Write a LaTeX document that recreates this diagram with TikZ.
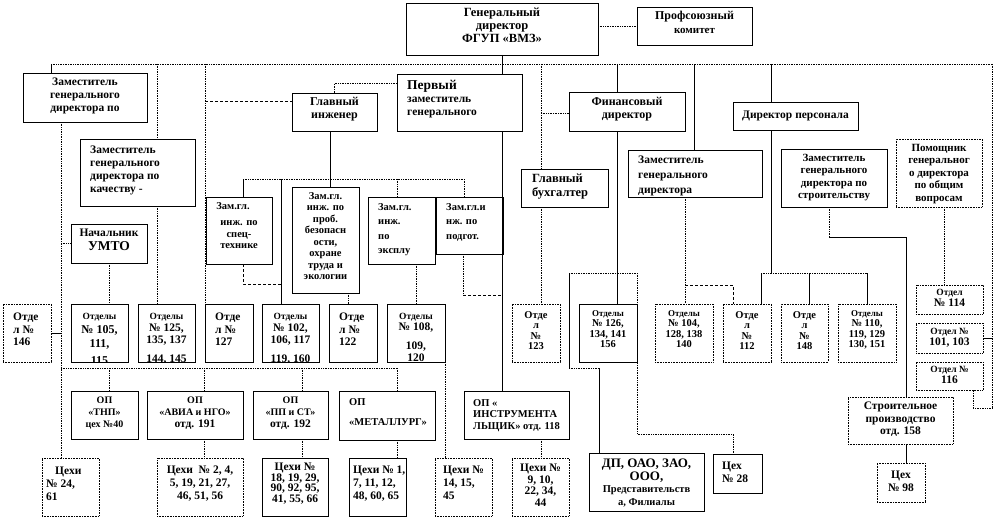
\documentclass[tikz,border=0pt]{standalone}
\usepackage{fontspec}
\setmainfont{Liberation Serif}
\usetikzlibrary{calc}
\newcommand\myfs[2]{\bfseries\fontsize{#1}{#2}\selectfont}
\tikzset{
 obox/.style={draw, line width=0.6pt, fill=white, inner sep=0pt, outer sep=0pt},
 dbox/.style={obox, densely dotted, line width=0.8pt},
 txt/.style={inner sep=0pt, align=center, font=\myfs{11.5}{13}},
 dl/.style={densely dotted, line width=0.7pt},
 sl/.style={line width=0.6pt},
 ds/.style={dash pattern=on 3pt off 2pt, line width=0.6pt},
}
\newcommand\bx[6][obox]{\node[#1,minimum width={(#5-#3)*1pt},minimum height={(#6-#4)*1pt}] (#2) at ({(#3+#5)/2},{(#4+#6)/2}) {};}
\newcommand\tx[4][]{\begin{scope}\clip (#2.south west) rectangle (#2.north east);\node[txt,anchor=#3,#1] at (#2.#3) {#4};\end{scope}}
\begin{document}
\begin{tikzpicture}[x=1pt,y=-1pt]
\useasboundingbox (0,0) rectangle (993,519);
% ---------- boxes ----------
\bx{gd}{406}{3}{598}{55}
\tx[yshift=-5pt,font=\myfs{12.5}{13}]{gd}{north}{Генеральный\\директор\\ФГУП «ВМЗ»}
\bx{prof}{637}{7}{752}{45}
\tx[yshift=-4pt,font=\myfs{12}{14}]{prof}{north}{Профсоюзный\\{\fontsize{11}{13}\selectfont комитет}}
\bx{zam1}{23}{73}{147}{122}
\tx[yshift=-5pt]{zam1}{north}{Заместитель\\генерального\\директора по}
\bx{pz}{397}{74}{522}{131}
\tx[xshift=10pt,yshift=-6pt,align=left]{pz}{north west}{{\fontsize{13.5}{13}\selectfont Первый}\\заместитель\\генерального}
\bx{gi}{292}{93}{377}{131}
\tx[yshift=-4pt,font=\myfs{12}{13.5}]{gi}{north}{Главный\\инженер}
\bx{fd}{569}{92}{685}{131}
\tx[yshift=-5pt,font=\myfs{12}{13.5}]{fd}{north}{Финансовый\\директор}
\bx{dp}{733}{102}{858}{130}
\tx{dp}{center}{Директор персонала}
\bx{zk}{80}{139}{195}{206}
\tx[xshift=10pt,yshift=-7pt,align=left]{zk}{north west}{Заместитель\\генерального\\директора по\\качеству -}
\bx{gb}{521}{169}{608}{207}
\tx[xshift=11pt,yshift=-5pt,align=left,font=\myfs{12.5}{14}]{gb}{north west}{Главный\\бухгалтер}
\bx{zf}{628}{150}{762}{197}
\tx[xshift=10pt,yshift=-6pt,align=left,font=\myfs{11.5}{15}]{zf}{north west}{Заместитель\\генерального\\директора}
\bx{zs}{781}{149}{887}{207}
\tx[yshift=-5pt,font=\myfs{11}{12.5}]{zs}{north}{Заместитель\\генерального\\директора по\\строительству}
\bx[dbox]{pom}{896}{139}{982}{207}
\tx[yshift=-5pt,font=\myfs{11}{12.5}]{pom}{north}{Помощник\\генеральног\\о директора\\по общим\\вопросам}
\bx{umto}{71}{224}{147}{263}
\tx[yshift=-5pt,font=\myfs{11.5}{14}]{umto}{north}{Начальник\\{\fontsize{13.5}{14}\selectfont УМТО}}
\bx{zgs}{206}{197}{272}{264}
\tx[yshift=-5pt,font=\myfs{10.5}{11.5}]{zgs}{north}{Зам.гл.\hspace*{12pt}\\[5pt]инж. по\\спец-\\технике}
\bx{zpb}{292}{187}{359}{293}
\tx[yshift=-5pt,font=\myfs{10.5}{11.5}]{zpb}{north}{Зам.гл.\\инж. по\\проб.\\безопасн\\ости,\\охране\\труда и\\экологии}
\bx{zge}{368}{197}{435}{264}
\tx[xshift=10pt,yshift=-6pt,align=left,font=\myfs{10.5}{14.5}]{zge}{north west}{Зам.гл.\\инж.\\по\\эксплу}
\bx{zgp}{436}{197}{503}{254}
\tx[xshift=10pt,yshift=-6pt,align=left,font=\myfs{10.5}{14.5}]{zgp}{north west}{Зам.гл.и\\нж. по\\подгот.}
% row of departments
\bx[dbox]{o146}{3}{304}{51}{362}
\tx[xshift=10pt,yshift=-9pt,align=left,font=\myfs{11.5}{12.5}]{o146}{north west}{Отде\\л №\\146}
\bx{o105}{71}{304}{128}{362}
\tx[yshift=-9pt,font=\myfs{12}{14}]{o105}{north}{{\fontsize{9.5}{9}\selectfont Отделы}\\№ 105,\\111,\\[3pt]115}
\bx{o125}{138}{304}{195}{362}
\tx[yshift=-9pt,font=\myfs{11.5}{12}]{o125}{north}{{\fontsize{9.5}{9}\selectfont Отделы}\\№ 125,\\135, 137\\[7pt]144, 145}
\bx{o127}{205}{304}{253}{362}
\tx[xshift=10pt,yshift=-9pt,align=left,font=\myfs{11.5}{12.5}]{o127}{north west}{Отде\\л №\\127}
\bx{o102}{262}{304}{319}{362}
\tx[yshift=-9pt,font=\myfs{11.5}{12}]{o102}{north}{{\fontsize{9.5}{9}\selectfont Отделы}\\№ 102,\\106, 117\\[7pt]119, 160}
\bx{o122}{329}{304}{377}{362}
\tx[xshift=10pt,yshift=-9pt,align=left,font=\myfs{11.5}{12.5}]{o122}{north west}{Отде\\л №\\122}
\bx{o108}{387}{304}{445}{362}
\tx[yshift=-9pt,font=\myfs{11.5}{11}]{o108}{north}{{\fontsize{9.5}{9}\selectfont Отделы}\\№ 108,\\[8pt]109,\\[1pt]120}
\bx[dbox]{o123}{512}{304}{560}{362}
\tx[yshift=-7pt,font=\myfs{10.5}{10.5}]{o123}{north}{Отде\\л\\№\\123}
\bx{o126}{579}{304}{637}{362}
\tx[yshift=-6pt,font=\myfs{10.5}{10.5}]{o126}{north}{{\fontsize{9}{9}\selectfont Отделы}\\№ 126,\\134, 141\\156}
\bx[dbox]{o104}{655}{304}{713}{362}
\tx[yshift=-6pt,font=\myfs{10.5}{10.5}]{o104}{north}{{\fontsize{9}{9}\selectfont Отделы}\\№ 104,\\128, 138\\140}
\bx[dbox]{o112}{723}{304}{771}{362}
\tx[yshift=-7pt,font=\myfs{10.5}{10.5}]{o112}{north}{Отде\\л\\№\\112}
\bx[dbox]{o148}{781}{304}{828}{362}
\tx[yshift=-7pt,font=\myfs{10.5}{10.5}]{o148}{north}{Отде\\л\\№\\148}
\bx[dbox]{o110}{838}{304}{896}{362}
\tx[yshift=-6pt,font=\myfs{10.5}{10.5}]{o110}{north}{{\fontsize{9}{9}\selectfont Отделы}\\№ 110,\\119, 129\\130, 151}
\bx[dbox]{o114}{916}{285}{983}{314}
\tx[yshift=-4pt,font=\myfs{11.5}{11}]{o114}{north}{{\fontsize{9.5}{9}\selectfont Отдел}\\№ 114}
\bx[dbox]{o101}{916}{323}{983}{353}
\tx[yshift=-5pt,font=\myfs{11.5}{11}]{o101}{north}{{\fontsize{9.5}{9}\selectfont Отдел №}\\101, 103}
\bx[dbox]{o116}{916}{362}{983}{390}
\tx[yshift=-4pt,font=\myfs{11.5}{11}]{o116}{north}{{\fontsize{9.5}{9}\selectfont Отдел №}\\116}
% OP row
\bx{tnp}{71}{391}{138}{439}
\tx[yshift=-6pt,font=\myfs{10}{12}]{tnp}{north}{ОП\\«ТНП»\\цех №40}
\bx{avia}{147}{391}{243}{439}
\tx[yshift=-6pt,font=\myfs{10}{12}]{avia}{north}{ОП\\«АВИА и НГО»\\{\fontsize{11.5}{11}\selectfont отд. 191}}
\bx{ppst}{253}{391}{328}{439}
\tx[yshift=-6pt,font=\myfs{10}{12}]{ppst}{north}{ОП\\«ПП и СТ»\\{\fontsize{11.5}{11}\selectfont отд. 192}}
\bx{met}{339}{391}{435}{440}
\tx[xshift=10pt,yshift=-7pt,align=left,font=\myfs{10.5}{12}]{met}{north west}{ОП\\[8pt]«МЕТАЛЛУРГ»}
\bx{instr}{464}{391}{569}{439}
\tx[xshift=9pt,yshift=-8pt,align=left,font=\myfs{10.5}{11.5}]{instr}{north west}{ОП «\\ИНСТРУМЕНТА\\ЛЬЩИК» отд. 118}
\bx[dbox]{sp}{848}{397}{953}{444}
\tx[yshift=-5pt,font=\myfs{11.5}{12.5}]{sp}{north}{Строительное\\производство\\отд. 158}
% workshops
\bx[dbox]{c24}{42}{458}{99}{516}
\tx[xshift=4pt,yshift=-9pt,align=left]{c24}{north west}{\hspace*{9pt}Цехи\\№ 24,\\61}
\bx[dbox]{c2}{157}{458}{243}{516}
\tx[yshift=-8pt]{c2}{north}{Цехи~ № 2, 4,\\5, 19, 21, 27,\\46, 51, 56}
\bx{c18}{262}{458}{328}{516}
\tx[yshift=-5pt,font=\myfs{11.5}{10.5}]{c18}{north}{Цехи №\\18, 19, 29,\\90, 92, 95,\\41, 55, 66}
\bx{c1}{349}{458}{406}{516}
\tx[xshift=4pt,yshift=-8pt,align=left]{c1}{north west}{Цехи № 1,\\7, 11, 12,\\48, 60, 65}
\bx[dbox]{c14}{435}{458}{492}{516}
\tx[xshift=8pt,yshift=-8pt,align=left]{c14}{north west}{Цехи №\\14, 15,\\45}
\bx[dbox]{c9}{512}{458}{569}{516}
\tx[yshift=-6pt,font=\myfs{11.5}{11.5}]{c9}{north}{Цехи №\\9, 10,\\22, 34,\\44}
\bx{dpoao}{589}{453}{704}{511}
\tx[yshift=-6pt,font=\myfs{10.5}{12.5}]{dpoao}{north}{{\fontsize{13}{12}\selectfont ДП, ОАО, ЗАО,}\\{\fontsize{13}{12}\selectfont ООО,}\\Представительств\\а, Филиалы}
\bx{c28}{713}{454}{762}{493}
\tx[xshift=9pt,yshift=-8pt,align=left]{c28}{north west}{Цех\\№ 28}
\bx[dbox]{c98}{877}{463}{925}{502}
\tx[yshift=-8pt]{c98}{north}{Цех\\№ 98}
% ---------- connectors ----------
\coordinate (bL) at (51,64); \coordinate (bR) at (992,64);
\draw[dl] (bL) -- (bR);
\draw[sl] (bL) -- (bL |- zam1.north);
\draw[sl] (gd.south) -- (gd.south |- pz.north);
\draw[dl] (gd.east |- prof.west) -- (prof.west);
\coordinate (k157) at (157,64);
\draw[dl] (k157) -- (k157 |- zk.north);
\draw[dl] (zk.south -| k157) -- (k157 |- o125.north);
\coordinate (k205) at (205,64);
\draw[dl] (k205) -- (k205 |- o127.north);
\draw[ds] (205,101) -- (gi.west |- 0,101);
\draw[dl] (gi.north) -- (gi.north |- 0,83) -- (pz.west |- 0,83);
\coordinate (k541) at (541,64);
\draw[dl] (k541) -- (k541 |- gb.north);
\draw[dl] (gb.south -| k541) -- (k541 |- o123.north);
\draw[dl] (k541 |- 0,113) -- (fd.west |- 0,113);
\coordinate (k617) at (617,64);
\draw[sl] (k617) -- (k617 |- fd.north);
\draw[sl] (fd.south -| k617) -- (k617 |- o126.north);
\coordinate (k694) at (694,64);
\draw[sl] (k694) -- (k694 |- zf.north);
\coordinate (k771) at (771,64);
\draw[sl] (k771) -- (k771 |- dp.north);
\coordinate (pb) at (771,273);
\draw[sl] (dp.south -| k771) -- (pb);
\draw[dl] (761,273) -- (867,273);
\draw[sl] (761,273) -- (761,0 |- o112.north);
\draw[sl] (809,273) -- (809,0 |- o148.north);
\draw[sl] (867,273) -- (867,0 |- o110.north);
\coordinate (rb) at (992,408);
\draw[dl] (bR) -- (rb) -- (973,408) -- (973,0 |- o116.south);
\draw[sl] (o101.east) -- (o101.east -| bR);
\draw[dl] (685,0 |- zf.south) -- (685,0 |- o104.north);
\draw[ds] (685,285) -- (733,285) -- (733,0 |- o112.north);
\coordinate (zsj) at (829,237);
\draw[dl] (829,0 |- zs.south) -- (zsj);
\draw[sl] (zsj) -- (906,237) -- (906,0 |- sp.north);
\draw[sl] (906,0 |- sp.south) -- (906,0 |- c98.north);
\draw[dl] (944,0 |- pom.south) -- (944,0 |- o114.north);
% finance group
\draw[dl] (569,273) -- (637,273);
\draw[sl] (569,273) -- (569,368);
\draw[dl] (569,368) -- (599,368);
\draw[sl] (599,368) -- (599,0 |- dpoao.north);
\draw[dl] (637,273) -- (637,434) -- (733,434) -- (733,0 |- c28.north);
% first deputy line
\draw[sl] (gd.south |- pz.south) -- (gd.south |- instr.north);
\draw[dl] (463,0 |- zgp.south) -- (463,295);
\draw[ds] (463,295) -- (gd.south |- 0,295);
% chief engineer group
\coordinate (gij) at (330,179);
\draw[sl] (330,0 |- gi.south) -- (gij);
\draw[dl] (243,179) -- (464,179);
\draw[sl] (243,179) -- (243,0 |- zgs.north);
\draw[sl] (gij) -- (330,0 |- zpb.north);
\draw[dl] (397,179) -- (397,0 |- zge.north);
\draw[dl] (464,179) -- (464,0 |- zgp.north);
\draw[sl] (281,179) -- (281,0 |- o102.north);
\draw[ds] (243,0 |- zgs.south) -- (243,284) -- (281,284);
\draw[dl] (348,0 |- zpb.south) -- (348,0 |- o122.north);
\draw[dl] (416,0 |- zge.south) -- (416,0 |- o108.north);
\draw[dl] (o108.south east) -- (o108.south east |- c14.north);
% left group
\draw[dl] (61,0 |- zam1.south) -- (61,0 |- c24.north);
\draw[dl] (61,0 |- umto.west) -- (umto.west);
\draw[dl] (109,0 |- umto.south) -- (109,0 |- o105.north);
\draw[sl] (o146.east) -- (61,0 |- o146.east);
\draw[dl] (61,368) -- (397,368);
\draw[dl] (109,368) -- (109,0 |- tnp.north);
\draw[dl] (204,368) -- (204,0 |- avia.north);
\draw[dl] (302,368) -- (302,0 |- ppst.north);
\draw[dl] (397,368) -- (397,0 |- met.north);
\draw[dl] (204,0 |- avia.south) -- (204,0 |- c2.north);
\draw[dl] (302,0 |- ppst.south) -- (302,0 |- c18.north);
\draw[dl] (397,0 |- met.south) -- (397,0 |- c1.north);
\draw[dl] (541,0 |- instr.south) -- (541,0 |- c9.north);
\end{tikzpicture}
\end{document}
